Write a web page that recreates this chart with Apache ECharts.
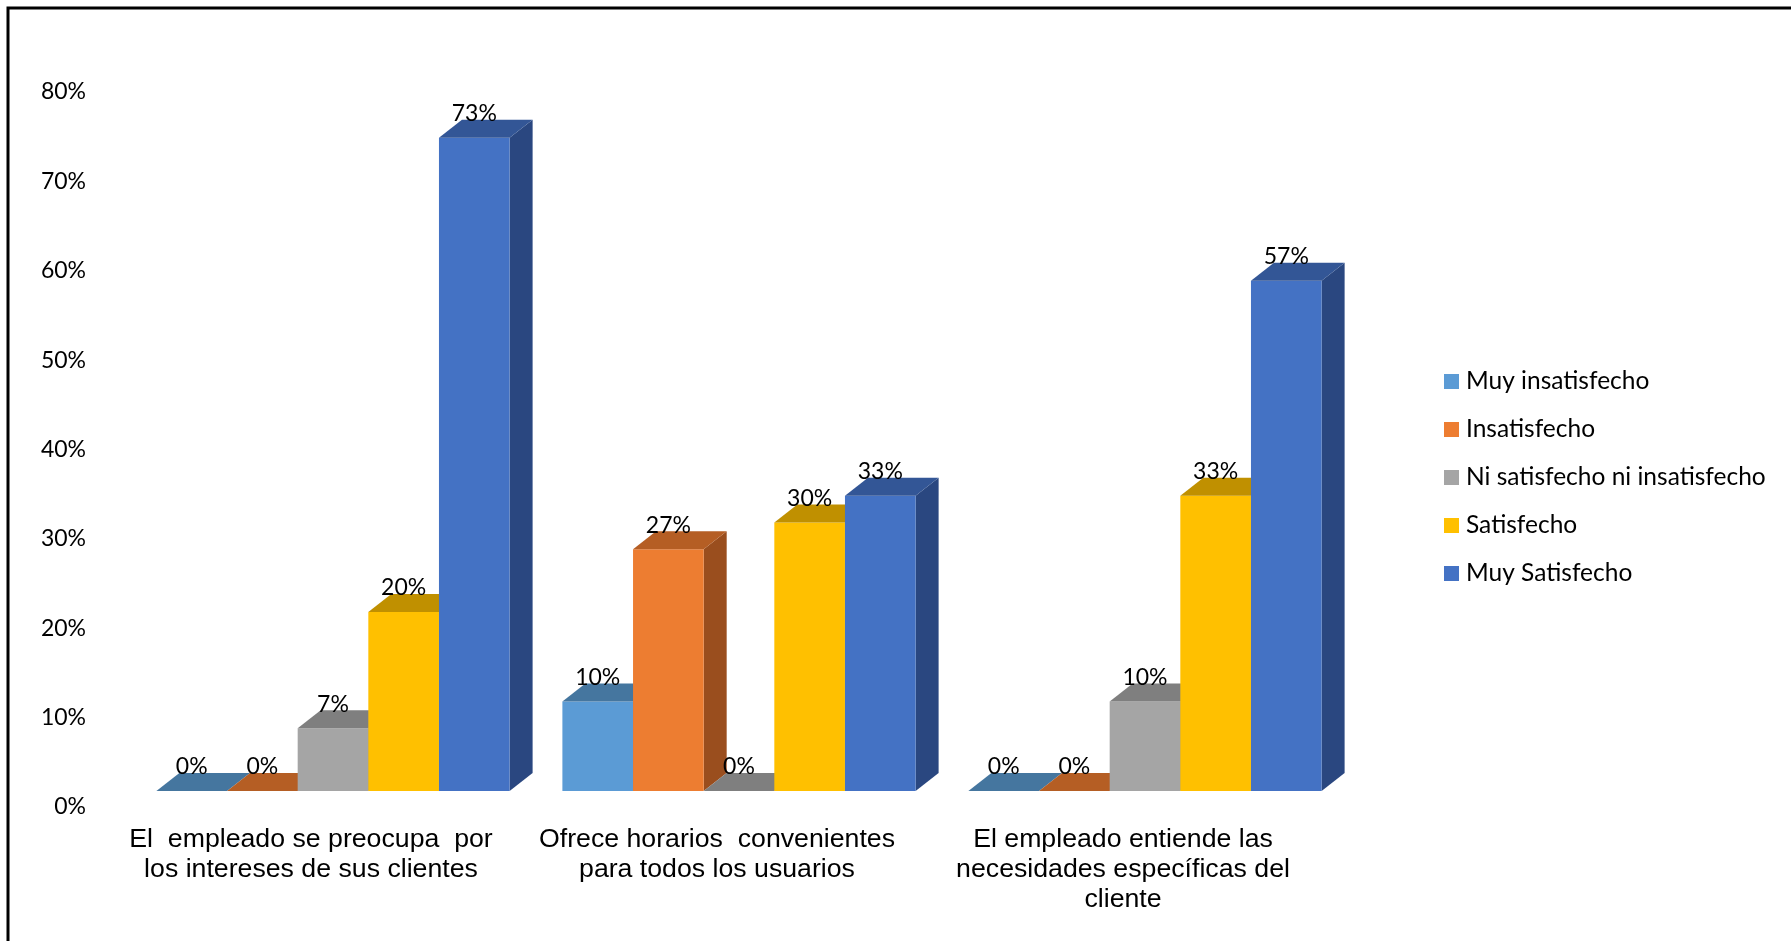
<!DOCTYPE html>
<html>
<head>
<meta charset="utf-8">
<title>Satisfacción de los usuarios</title>
<script src="https://cdn.jsdelivr.net/npm/echarts@6/dist/echarts.min.js"></script>
<style>
  html, body { margin: 0; padding: 0; background: #ffffff; }
  #chart { width: 1791px; height: 941px; }
</style>
</head>
<body>
<div id="chart"></div>
<script>
// Survey questions (category axis)
const categories = [
  'El  empleado se preocupa  por\nlos intereses de sus clientes',
  'Ofrece horarios  convenientes\npara todos los usuarios',
  'El empleado entiende las\nnecesidades específicas del\ncliente'
];

// Response levels, one series each
const seriesNames = [
  'Muy insatisfecho',
  'Insatisfecho',
  'Ni satisfecho ni insatisfecho',
  'Satisfecho',
  'Muy Satisfecho'
];

// Percentages per question
const muyInsatisfecho = [0, 10, 0];
const insatisfecho    = [0, 27, 0];
const niSatisfecho    = [7, 0, 10];
const satisfecho      = [20, 30, 33];
const muySatisfecho   = [73, 33, 57];

// Value axis range
const yMin = 0;
const yMax = 80;
const yStep = 10;

const seriesValues = [muyInsatisfecho, insatisfecho, niSatisfecho, satisfecho, muySatisfecho];

// Face shades of each column: front, top, side
const palette = [
  { front: '#5B9BD5', top: '#45769F', side: '#3E6A93' },
  { front: '#ED7D31', top: '#B55E24', side: '#9A4E1E' },
  { front: '#A5A5A5', top: '#7F7F7F', side: '#6B6B6B' },
  { front: '#FFC000', top: '#C09000', side: '#A27A00' },
  { front: '#4472C4', top: '#335696', side: '#2A4780' }
];

// Depth of the extruded columns
const DEPTH_X = 23;
const DEPTH_Y = 18;
const LABEL_FONT = 'Lato, "Open Sans", sans-serif';

function renderColumn(params, api) {
  const s = params.seriesIndex;
  const cat = api.value(0);
  const v = api.value(1);
  const base = api.coord([cat, 0]);
  const top = api.coord([cat, v]);
  const band = api.size([1, 0])[0];
  const w = band * 0.87 / seriesNames.length;
  const x0 = base[0] - (seriesNames.length / 2) * w + s * w;
  const x1 = x0 + w;
  const yb = base[1];
  const yt = top[1];
  const c = palette[s];
  return {
    type: 'group',
    children: [
      {
        type: 'polygon',
        shape: { points: [[x1, yt], [x1 + DEPTH_X, yt - DEPTH_Y], [x1 + DEPTH_X, yb - DEPTH_Y], [x1, yb]] },
        style: { fill: c.side }
      },
      {
        type: 'rect',
        shape: { x: x0, y: yt, width: w, height: yb - yt },
        style: { fill: c.front }
      },
      {
        type: 'polygon',
        shape: { points: [[x0, yt], [x1, yt], [x1 + DEPTH_X, yt - DEPTH_Y], [x0 + DEPTH_X, yt - DEPTH_Y]] },
        style: { fill: c.top }
      },
      {
        type: 'text',
        x: x0 + w / 2,
        y: yt - DEPTH_Y - 6,
        style: {
          text: v + '%',
          fill: '#000000',
          font: '23px ' + LABEL_FONT,
          align: 'center',
          verticalAlign: 'middle'
        }
      }
    ]
  };
}

const series = seriesNames.map(function (name, i) {
  return {
    name: name,
    type: 'custom',
    xAxisIndex: 0,
    yAxisIndex: 0,
    itemStyle: { color: palette[i].front },
    renderItem: renderColumn,
    data: seriesValues[i].map(function (v, k) { return [k, v]; }),
    z: 2
  };
});

const chart = echarts.init(document.getElementById('chart'), null, { renderer: 'canvas' });

chart.setOption({
  backgroundColor: '#ffffff',
  animation: false,
  graphic: [
    {
      type: 'rect',
      shape: { x: 8, y: 8, width: 2000, height: 2000 },
      style: { fill: 'none', stroke: '#000000', lineWidth: 3 },
      silent: true,
      z: 10
    }
  ],
  legend: {
    orient: 'vertical',
    left: 1444,
    top: 369,
    padding: 0,
    icon: 'rect',
    itemWidth: 15,
    itemHeight: 15,
    itemGap: 23,
    selectedMode: false,
    textStyle: {
      fontFamily: LABEL_FONT,
      fontSize: 24.5,
      lineHeight: 24,
      color: '#000000',
      padding: [0, 0, 0, 2]
    },
    data: seriesNames.map(function (n, i) {
      return { name: n, itemStyle: { color: palette[i].front } };
    })
  },
  grid: [
    // columns
    { left: 130, width: 1218, top: 75, bottom: 150, containLabel: false },
    // value scale on the wall
    { left: 130, width: 1218, top: 92, bottom: 134, containLabel: false }
  ],
  xAxis: [
    {
      type: 'category',
      gridIndex: 0,
      data: categories,
      axisLine: { show: false },
      axisTick: { show: false },
      splitLine: { show: false },
      axisLabel: {
        interval: 0,
        margin: 34,
        color: '#000000',
        fontFamily: '"Liberation Sans", Arial, sans-serif',
        fontSize: 26.7,
        lineHeight: 30,
        padding: [0, 44, 0, 0]
      }
    },
    {
      type: 'value',
      gridIndex: 1,
      show: false
    }
  ],
  yAxis: [
    {
      type: 'value',
      gridIndex: 0,
      min: yMin,
      max: yMax,
      interval: yStep,
      show: false
    },
    {
      type: 'value',
      gridIndex: 1,
      min: yMin,
      max: yMax,
      interval: yStep,
      axisLine: { show: false },
      axisTick: { show: false },
      splitLine: { show: false },
      axisLabel: {
        margin: 44,
        color: '#000000',
        fontFamily: LABEL_FONT,
        fontSize: 23,
        formatter: '{value}%'
      }
    }
  ],
  series: series
});
</script>
</body>
</html>
